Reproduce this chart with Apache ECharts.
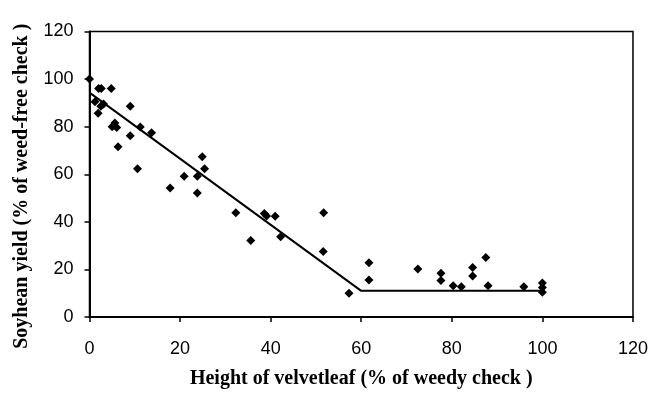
<!DOCTYPE html>
<html>
<head>
<meta charset="utf-8">
<script src="https://cdn.jsdelivr.net/npm/echarts@6/dist/echarts.min.js"></script>
<style>
  html, body { margin: 0; padding: 0; background: #fff; }
  #chart { width: 651px; height: 394px; }
</style>
</head>
<body>
<div id="chart"></div>
<script>
// observed points (height of velvetleaf %, soybean yield %)
const heightX = [
  0, 2, 2.6, 4.8, 1.2, 2.5, 1.9, 3.1, 9, 5, 5.6, 6, 9, 11.2, 13.7, 6.3, 10.6,
  24.9, 25.4, 23.8, 20.9, 17.8, 23.8,
  32.3, 38.6, 39.1, 41, 51.7, 35.6, 42.2,
  51.6, 57.3, 61.7, 61.7,
  72.5, 77.6, 77.6, 80.3, 82.1, 84.6, 84.6, 87.5, 88, 95.9, 100, 100, 100
];
const yieldY = [
  100, 96, 96, 96, 90.5, 88.6, 85.6, 89.5, 88.6, 80, 81.5, 79.6, 76.2, 79.9, 77.4, 71.6, 62.3,
  67.4, 62.3, 59.2, 59.2, 54.2, 52.1,
  43.8, 43.5, 42.5, 42.3, 43.8, 32.2, 33.7,
  27.5, 10, 22.8, 15.6,
  20.2, 18.4, 15.3, 13.1, 12.7, 20.8, 17.2, 25, 13.1, 12.7, 14.3, 12.4, 10.4
];

// fitted segmented line
const fitX = [0, 60, 100];
const fitY = [94.3, 11, 11];

const axisTicks = [0, 20, 40, 60, 80, 100, 120];

const points = heightX.map((x, i) => [x, yieldY[i]]);
const fitLine = fitX.map((x, i) => [x, fitY[i]]);

const titleStyle = {
  fontFamily: 'Liberation Serif',
  fontWeight: 'bold',
  fontSize: 20,
  color: '#000',
};

const chart = echarts.init(document.getElementById('chart'));
chart.setOption({
  animation: false,
  grid: {
    left: 89.5,
    right: 15.5,
    top: 31.5,
    bottom: 72.5,
    show: true,
    borderColor: '#000',
    borderWidth: 1.5,
  },
  xAxis: {
    type: 'value',
    min: axisTicks[0],
    max: axisTicks[axisTicks.length - 1],
    interval: 20,
    name: 'Height of velvetleaf (% of weedy check )',
    nameLocation: 'middle',
    nameGap: 52,
    nameTextStyle: titleStyle,
    axisLine: { show: true, lineStyle: { color: '#000', width: 2 } },
    axisTick: { show: true, length: 5, lineStyle: { color: '#000', width: 1.5 } },
    axisLabel: {
      margin: 23,
      fontFamily: 'Liberation Sans',
      fontSize: 18,
      color: '#000',
    },
    splitLine: { show: false },
  },
  yAxis: {
    type: 'value',
    min: axisTicks[0],
    max: axisTicks[axisTicks.length - 1],
    interval: 20,
    name: 'Soyhean yield (% of weed-free check )',
    nameLocation: 'middle',
    nameGap: 58,
    nameTextStyle: Object.assign({}, titleStyle, { padding: [0, 24, 0, 0] }),
    axisLine: { show: true, lineStyle: { color: '#000', width: 2 } },
    axisTick: { show: true, length: 5, lineStyle: { color: '#000', width: 1.5 } },
    axisLabel: {
      margin: 16,
      fontFamily: 'Liberation Sans',
      fontSize: 18,
      color: '#000',
    },
    splitLine: { show: false },
  },
  series: [
    {
      type: 'line',
      data: fitLine,
      symbol: 'none',
      lineStyle: { color: '#000', width: 2 },
      z: 2,
    },
    {
      type: 'scatter',
      data: points,
      symbol: 'diamond',
      symbolSize: 9,
      itemStyle: { color: '#000', opacity: 1 },
      z: 3,
    },
  ],
});
</script>
</body>
</html>
